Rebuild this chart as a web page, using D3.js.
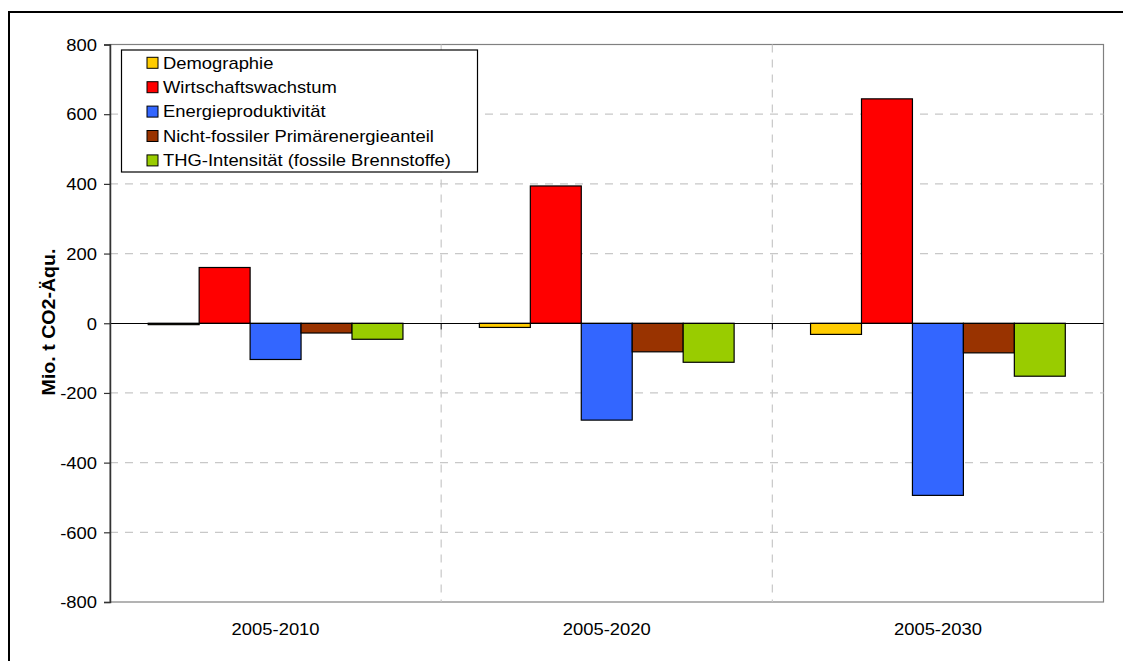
<!DOCTYPE html>
<html>
<head>
<meta charset="utf-8">
<script src="https://cdn.jsdelivr.net/npm/d3@7"></script>
<style>
  html, body { margin: 0; padding: 0; background: #fff; }
  svg { display: block; font-family: "Liberation Sans", Arial, sans-serif; }
</style>
</head>
<body>
<svg id="chart" width="1123" height="661"></svg>
<script>
// Decomposition of emission changes (Mio. t CO2-Äqu.) by driver and period
const periods = ["2005-2010", "2005-2020", "2005-2030"];
const seriesNames = [
  "Demographie",
  "Wirtschaftswachstum",
  "Energieproduktivität",
  "Nicht-fossiler Primärenergieanteil",
  "THG-Intensität (fossile Brennstoffe)"
];
const demographie = [-4, -12, -32];
const wirtschaftswachstum = [160, 394, 644];
const energieproduktivitaet = [-104, -278, -494];
const nichtFossilerAnteil = [-28, -82, -85];
const thgIntensitaet = [-46, -112, -152];
const seriesColors = ["#FFCC00", "#FF0000", "#3366FF", "#993300", "#99CC00"];
const yTicks = [-800, -600, -400, -200, 0, 200, 400, 600, 800];
const yTitle = "Mio. t CO2-Äqu.";

const seriesValues = [demographie, wirtschaftswachstum, energieproduktivitaet, nichtFossilerAnteil, thgIntensitaet];

const svg = d3.select("#chart");
const plot = { left: 110, right: 1103.5, top: 44.5, bottom: 602 };
const textStretch = 1.15;
// Plain hyphen-minus for negative tick values
const tickLabel = d => String(d);

const x = d3.scaleBand().domain(periods).range([plot.left, plot.right]).paddingInner(0).paddingOuter(0);
const xs = d3.scaleBand().domain(seriesNames).range([0, x.bandwidth()]).paddingInner(0).paddingOuter(0.75);
const y = d3.scaleLinear().domain([-800, 800]).range([plot.bottom, plot.top]);

// Outer frame
svg.append("path")
  .attr("d", "M9,661V12H1123")
  .attr("fill", "none").attr("stroke", "#000").attr("stroke-width", 2);

// Plot background and border
svg.append("rect")
  .attr("x", plot.left).attr("y", plot.top)
  .attr("width", plot.right - plot.left).attr("height", plot.bottom - plot.top)
  .attr("fill", "#fff").attr("stroke", "#808080").attr("stroke-width", 1.2);

// Horizontal dashed gridlines
svg.append("g").selectAll("line")
  .data(yTicks.filter(t => t !== 0 && Math.abs(t) !== 800))
  .join("line")
  .attr("x1", plot.left).attr("x2", plot.right)
  .attr("y1", d => y(d)).attr("y2", d => y(d))
  .attr("stroke", "#c8c8c8").attr("stroke-width", 1.2).attr("stroke-dasharray", "8,7");

// Vertical dashed gridlines at period boundaries
svg.append("g").selectAll("line")
  .data(periods.slice(1))
  .join("line")
  .attr("x1", d => x(d)).attr("x2", d => x(d))
  .attr("y1", plot.top).attr("y2", plot.bottom)
  .attr("stroke", "#c8c8c8").attr("stroke-width", 1.2).attr("stroke-dasharray", "8,7");

// Bars
const barData = [];
seriesNames.forEach((s, si) => {
  periods.forEach((p, pi) => barData.push({ series: s, si, period: p, value: seriesValues[si][pi] }));
});
svg.append("g").selectAll("rect")
  .data(barData)
  .join("rect")
  .attr("x", d => x(d.period) + xs(d.series))
  .attr("width", xs.bandwidth())
  .attr("y", d => y(Math.max(0, d.value)))
  .attr("height", d => Math.abs(y(d.value) - y(0)))
  .attr("fill", d => seriesColors[d.si])
  .attr("stroke", "#000").attr("stroke-width", 1.2);

// Zero line with category tick marks
const zeroY = Math.round(y(0)) + 0.5;
svg.append("line")
  .attr("x1", plot.left).attr("x2", plot.right)
  .attr("y1", zeroY).attr("y2", zeroY)
  .attr("stroke", "#000").attr("stroke-width", 1);
svg.append("g").selectAll("line")
  .data(periods.slice(1))
  .join("line")
  .attr("x1", d => x(d)).attr("x2", d => x(d))
  .attr("y1", zeroY).attr("y2", zeroY + 6)
  .attr("stroke", "#000").attr("stroke-width", 1);

// Y axis
const yAxis = svg.append("g")
  .attr("transform", `translate(${plot.left},0)`)
  .call(d3.axisLeft(y).tickValues(yTicks).tickSize(6).tickFormat(tickLabel));
yAxis.select(".domain").attr("stroke", "#333").attr("stroke-width", 1.5);
yAxis.selectAll(".tick line").attr("stroke", "#333").attr("stroke-width", 1.2);
yAxis.selectAll(".tick text").remove();
yAxis.selectAll(".tick").append("text")
  .attr("transform", `translate(-13,0) scale(${textStretch},1)`)
  .attr("text-anchor", "end")
  .attr("dy", "0.36em")
  .attr("fill", "#000")
  .attr("font-size", 16)
  .text(tickLabel);

// Category labels
svg.append("g").selectAll("text")
  .data(periods)
  .join("text")
  .attr("transform", d => `translate(${x(d) + x.bandwidth() / 2},635) scale(${textStretch},1)`)
  .attr("text-anchor", "middle")
  .attr("font-size", 16)
  .attr("fill", "#000")
  .text(d => d);

// Y axis title
svg.append("text")
  .attr("transform", `translate(55,322) rotate(-90) scale(1.12,1)`)
  .attr("text-anchor", "middle")
  .attr("font-size", 17.5)
  .attr("font-weight", "bold")
  .attr("fill", "#000")
  .text(yTitle);

// Legend
const legend = svg.append("g");
legend.append("rect")
  .attr("x", 121.5).attr("y", 50)
  .attr("width", 356).attr("height", 122)
  .attr("fill", "#fff").attr("stroke", "#000").attr("stroke-width", 1.2);
const rowStep = 24.4;
const rows = legend.selectAll("g.row")
  .data(seriesNames)
  .join("g")
  .attr("class", "row")
  .attr("transform", (d, i) => `translate(0,${62.8 + i * rowStep})`);
rows.append("rect")
  .attr("x", 147).attr("y", -5.5)
  .attr("width", 11).attr("height", 11)
  .attr("fill", (d, i) => seriesColors[i])
  .attr("stroke", "#000").attr("stroke-width", 1);
rows.append("text")
  .attr("transform", `translate(163,5.8) scale(${textStretch},1)`)
  .attr("font-size", 16)
  .attr("fill", "#000")
  .text(d => d);
</script>
</body>
</html>
